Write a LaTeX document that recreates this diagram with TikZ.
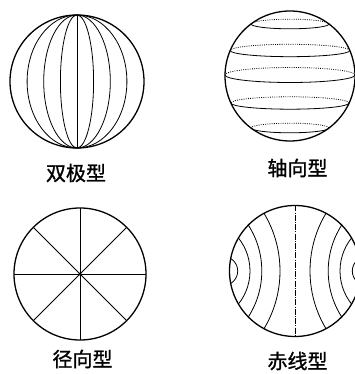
\documentclass[tikz,border=0pt]{standalone}
\usepackage{fontspec}
\usetikzlibrary{calc}
\newfontfamily\cjk[FakeBold=1.2]{Noto Sans CJK SC}
\begin{document}
\begin{tikzpicture}[x=1pt,y=1pt,
  outer/.style={line width=1.3pt},
  inner/.style={line width=0.8pt},
  backline/.style={line width=0.8pt,dash pattern=on 0.9pt off 1.3pt},
  lab/.style={font=\cjk\fontsize{20}{20}\selectfont,inner sep=0pt}]
\useasboundingbox (0,0) rectangle (355,374);
% ---------- 1: bipolar ----------
\coordinate (c1) at (77,292.5);
\foreach \rx in {16.6,33.3,49.9}
  \draw[inner] (c1) ellipse [x radius=\rx, y radius=66.5];
\draw[inner] (77,359) -- (77,226);
\draw[outer] (c1) ellipse [x radius=67, y radius=66.5];
\node[lab] (l1) at (76,201) {双极型};
% ---------- 2: axial ----------
\coordinate (c2) at (290,298);
\foreach \ty/\hw/\ry in {350/39/4.8, 323.5/59.8/6.2, 299/65/7.5, 271/59.1/6.2, 246/39/4.8}{
  \draw[backline] (290+\hw,\ty) arc[start angle=0,end angle=180,x radius=\hw,y radius=\ry];
  \draw[inner] (290-\hw,\ty) arc[start angle=180,end angle=360,x radius=\hw,y radius=\ry];
}
\draw[outer] (c2) circle[radius=65];
\node[lab] (l2) at (297.5,206) {轴向型};
% ---------- 3: radial ----------
\coordinate (c3) at (80,100);
\foreach \a in {0,45,90,135}
  \draw[inner] ($(c3)+(\a:66)$) -- ($(c3)+(\a+180:66)$);
\fill (c3) circle[radius=1.6];
\draw[outer] (c3) circle[radius=66];
\node[lab] (l3) at (82.5,15) {径向型};
% ---------- 4: equatorial ----------
\coordinate (c4) at (295,103);
\begin{scope}
  \clip (c4) circle[radius=65.5];
  \foreach \u/\r in {127/112, 118/84.8, 98/53, 71.8/14.5}{
    \draw[inner] (295-\u,103) circle[radius=\r];
    \draw[inner] (295+\u,103) circle[radius=\r];
  }
\end{scope}
\draw[inner,dash pattern=on 6pt off 1.2pt on 1pt off 1.2pt] (295,168.5) -- (295,37.5);
\draw[outer] (c4) circle[radius=65.5];
\node[lab] (l4) at (297.5,13) {赤线型};
\end{tikzpicture}
\end{document}
